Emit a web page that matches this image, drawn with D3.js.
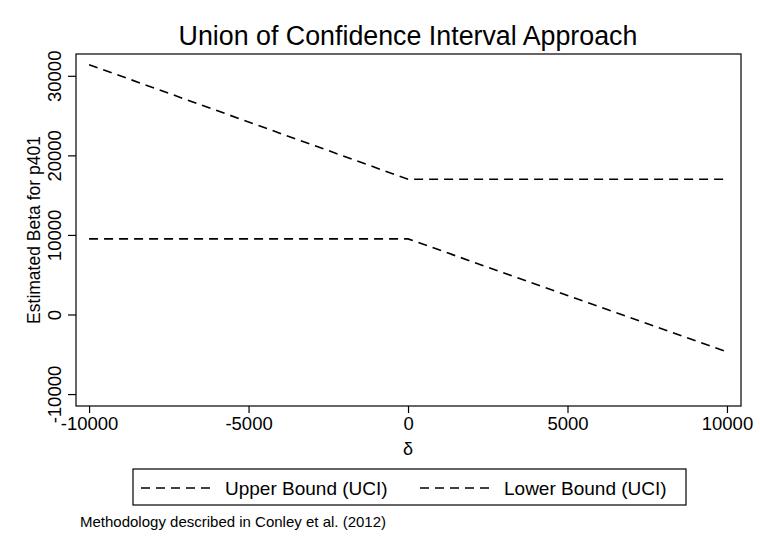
<!DOCTYPE html>
<html><head><meta charset="utf-8">
<script src="https://cdn.jsdelivr.net/npm/d3@7"></script>
<style>body{margin:0;background:#fff}</style>
</head><body>
<svg id="c" width="760" height="553"></svg>
<script>
const deltas = [-10000, -5000, 0, 5000, 10000];
const upperBound = [31400, 24200, 17000, 17000, 17000];
const lowerBound = [9500, 9500, 9500, 2400, -4700];
const xTicks = [-10000, -5000, 0, 5000, 10000];
const yTicks = [-10000, 0, 10000, 20000, 30000];
const seriesNames = ["Upper Bound (UCI)", "Lower Bound (UCI)"];

const svg = d3.select("#c");
const font = "'Liberation Sans', Arial, sans-serif";
const L = 76, R = 741, T = 54, B = 406;
const x = d3.scaleLinear().domain([-10410, 10440]).range([L, R]);
const y = d3.scaleLinear().domain([-11500, 32740]).range([B, T]);

svg.append("rect").attr("width",760).attr("height",553).attr("fill","#fff");

svg.append("text").attr("x",408).attr("y",45).attr("text-anchor","middle")
  .attr("font-family",font).attr("font-size",26.8).text("Union of Confidence Interval Approach");

svg.append("rect").attr("x",L).attr("y",T).attr("width",R-L).attr("height",B-T)
  .attr("fill","none").attr("stroke","#000").attr("stroke-width",1.2);

const xa = svg.append("g").attr("transform",`translate(0,${B})`)
  .call(d3.axisBottom(x).tickValues(xTicks).tickSize(7).tickPadding(4).tickFormat(d3.format("d")));
xa.select(".domain").remove();
xa.selectAll("line").attr("stroke","#000").attr("stroke-width",1.2);
xa.selectAll("text").attr("font-family",font).attr("font-size",18.5).attr("fill","#000").text(d=>String(d));

const ya = svg.append("g").attr("transform",`translate(${L},0)`)
  .call(d3.axisLeft(y).tickValues(yTicks).tickSize(8).tickFormat(d=>String(d)));
ya.select(".domain").remove();
ya.selectAll("line").attr("stroke","#000").attr("stroke-width",1.2);
ya.selectAll("text").attr("font-family",font).attr("font-size",18.5).attr("fill","#000")
  .attr("text-anchor","middle").attr("x",0).attr("dy",0)
  .attr("transform","translate(-15,0) rotate(-90)");

svg.append("text").attr("transform","translate(40,230) rotate(-90)").attr("text-anchor","middle")
  .attr("font-family",font).attr("font-size",17.5).text("Estimated Beta for p401");
svg.append("text").attr("x",408).attr("y",455).attr("text-anchor","middle")
  .attr("font-family",font).attr("font-size",18).text("δ");

const line = d3.line().x(d=>x(d[0])).y(d=>y(d[1]));
[upperBound, lowerBound].forEach(s=>{
  svg.append("path").datum(deltas.map((d,i)=>[d,s[i]])).attr("d",line)
    .attr("fill","none").attr("stroke","#000").attr("stroke-width",1.6)
    .attr("stroke-dasharray","9,6");
});

svg.append("rect").attr("x",133).attr("y",469).attr("width",553).attr("height",36)
  .attr("fill","none").attr("stroke","#000").attr("stroke-width",1.2);
const lx = [141, 420];
seriesNames.forEach((n,i)=>{
  svg.append("line").attr("x1",lx[i]).attr("x2",lx[i]+70).attr("y1",488).attr("y2",488)
    .attr("stroke","#000").attr("stroke-width",1.6).attr("stroke-dasharray","9,6");
  svg.append("text").attr("x",lx[i]+84).attr("y",495).attr("font-family",font)
    .attr("font-size",19).text(n);
});
svg.append("text").attr("x",80).attr("y",527).attr("font-family",font).attr("font-size",15)
  .text("Methodology described in Conley et al. (2012)");
</script>
</body></html>
